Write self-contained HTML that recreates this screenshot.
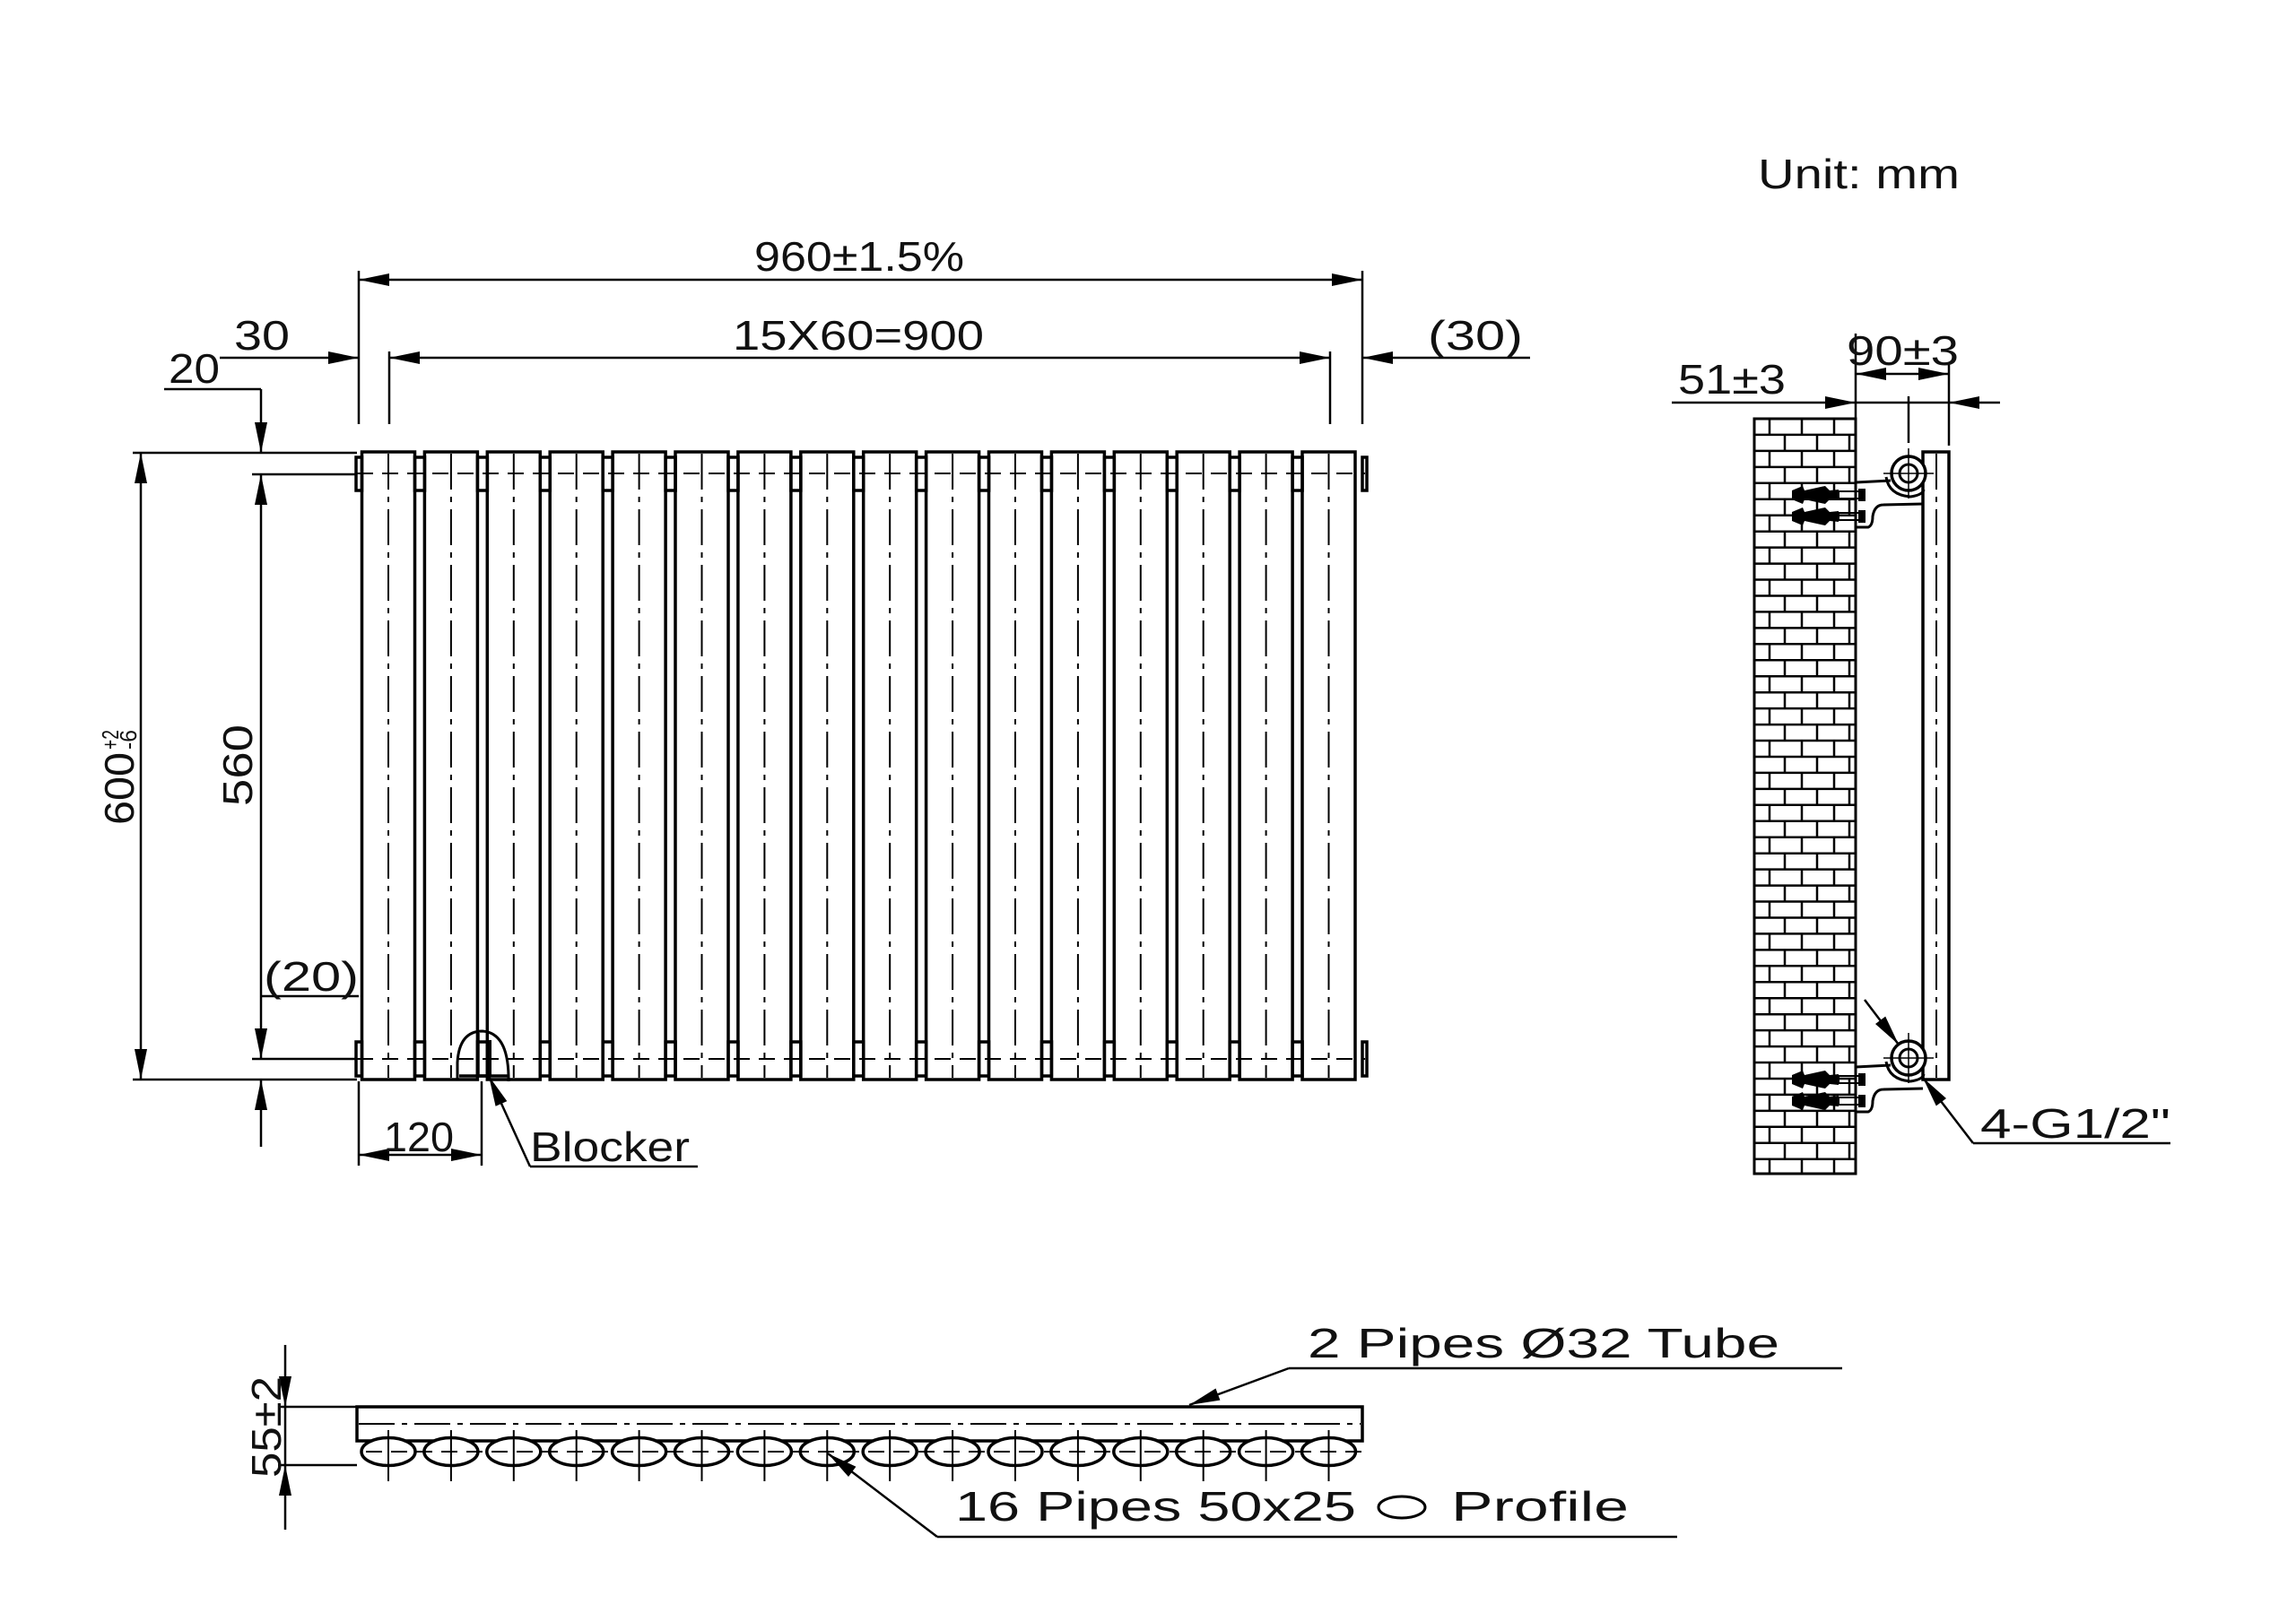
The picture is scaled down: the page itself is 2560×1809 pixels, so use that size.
<!DOCTYPE html>
<html><head><meta charset="utf-8"><style>
html,body{margin:0;padding:0;background:#fff}
svg{display:block}
text{font-family:"Liberation Sans",sans-serif;font-size:46px;fill:#111}
</style></head><body>
<svg id="s" width="2560" height="1809" viewBox="0 0 2560 1809" xmlns="http://www.w3.org/2000/svg">
<g id="g" stroke="#000" stroke-width="2.5" fill="none"></g>
<g id="t">
<text x="1960" y="210" textLength="225" lengthAdjust="spacingAndGlyphs">Unit: mm</text>
<text x="841" y="302" textLength="234" lengthAdjust="spacingAndGlyphs">960±1.5%</text>
<text x="817" y="390" textLength="280" lengthAdjust="spacingAndGlyphs">15X60=900</text>
<text x="261" y="390" textLength="62" lengthAdjust="spacingAndGlyphs">30</text>
<text x="1592" y="390" textLength="106" lengthAdjust="spacingAndGlyphs">(30)</text>
<text x="188" y="427" textLength="57" lengthAdjust="spacingAndGlyphs">20</text>
<text x="294" y="1105" textLength="106" lengthAdjust="spacingAndGlyphs">(20)</text>
<text x="428" y="1284" textLength="78" lengthAdjust="spacingAndGlyphs">120</text>
<text x="591" y="1295" textLength="178" lengthAdjust="spacingAndGlyphs">Blocker</text>
<text transform="translate(149,920) rotate(-90)" textLength="81" lengthAdjust="spacingAndGlyphs">600</text>
<text transform="translate(132,836) rotate(-90)" style="font-size:26px" textLength="22" lengthAdjust="spacingAndGlyphs">+2</text>
<text transform="translate(152,836) rotate(-90)" style="font-size:26px" textLength="22" lengthAdjust="spacingAndGlyphs">-6</text>
<text transform="translate(281,899) rotate(-90)" textLength="91" lengthAdjust="spacingAndGlyphs">560</text>
<text x="1871" y="439" textLength="120" lengthAdjust="spacingAndGlyphs">51±3</text>
<text x="2059" y="407" textLength="125" lengthAdjust="spacingAndGlyphs">90±3</text>
<text x="2208" y="1269" textLength="212" lengthAdjust="spacingAndGlyphs">4-G1/2"</text>
<text x="1458" y="1514" textLength="526" lengthAdjust="spacingAndGlyphs">2 Pipes Ø32 Tube</text>
<text x="1065" y="1696" textLength="447" lengthAdjust="spacingAndGlyphs">16 Pipes 50x25</text>
<text x="1618" y="1696" textLength="198" lengthAdjust="spacingAndGlyphs">Profile</text>
<text transform="translate(313,1648) rotate(-90)" textLength="113" lengthAdjust="spacingAndGlyphs">55±2</text>
</g>
</svg>
<script>
var g=document.getElementById('g'),NS='http://www.w3.org/2000/svg',h='';
function L(a,b,c,d,extra){h+='<line x1="'+a+'" y1="'+b+'" x2="'+c+'" y2="'+d+'"'+(extra||'')+'/>';}
function R(x,y,w,hh,extra){h+='<rect x="'+x+'" y="'+y+'" width="'+w+'" height="'+hh+'"'+(extra||'')+'/>';}
var DD=' stroke-dasharray="40 8 6 8" stroke-width="2"';
var DS=' stroke-dasharray="18 10" stroke-width="2"';
function A(x,y,dx,dy){ // arrow tip at x,y pointing in direction dx,dy
 var l=34,w=7,bx=x-dx*l,by=y-dy*l,px=-dy*w,py=dx*w;
 h+='<polygon points="'+x+','+y+' '+(bx+px)+','+(by+py)+' '+(bx-px)+','+(by-py)+'" fill="#000" stroke="none"/>';}
var T=' stroke-width="3.5"';
// ===== front view columns
for(var i=0;i<16;i++){var x=403.5+69.9*i,c=x+29.5;
 R(x.toFixed(1),504,59,700,T);
 L(c.toFixed(1),506,c.toFixed(1),1202,DD);
 if(i<15){var gx=x+59;R(gx.toFixed(1),510,11,37,T);R(gx.toFixed(1),1162,11,38,T);}
}
R(397,510,6.5,37,T);R(397,1162,6.5,38,T);R(1519,510,5,37,T);R(1519,1162,5,38,T);
L(398,528,1522,528,DS);L(398,1181,1522,1181,DS);
// blocker
h+='<path d="M510,1204 L510,1185 Q512,1150 538,1150 Q566,1152 567,1200 L567,1206" stroke-width="3"/>';
L(512,1200,567,1200,T);L(533,1152,533,1200,T);L(545,1160,545,1200,' stroke-width="6"');
// dims top
L(400,302,400,473);L(434,392,434,473);L(1483,392,1483,473);L(1519,302,1519,473);
L(400,312,1519,312);A(400,312,-1,0);A(1519,312,1,0);
L(434,399,1483,399);A(434,399,-1,0);A(1483,399,1,0);
L(245,399,400,399);A(400,399,1,0);
L(1519,399,1706,399);A(1519,399,-1,0);
// left dims
L(148,505,398,505);L(148,1204,398,1204);L(281,529,398,529);L(281,1181,398,1181);
L(157,505,157,1204);A(157,505,0,-1);A(157,1204,0,1);
L(183,434,291,434);L(291,434,291,505);A(291,505,0,1);
L(291,529,291,1181);A(291,529,0,-1);A(291,1181,0,1);
L(291,1204,291,1279);A(291,1204,0,-1);
L(291,1111,400,1111);
// 120
L(400,1206,400,1300);L(537,1206,537,1300);L(400,1288,537,1288);A(400,1288,-1,0);A(537,1288,1,0);
// blocker leader
L(545,1200,591,1301);A(545,1200,-0.41,-0.91);L(591,1301,778,1301);
// ===== side view wall
R(1956,467,113,842,' stroke-width="3"');
var rh=17.95,k=0;
for(var y=467+rh;y<1309;y+=rh){L(1956,y.toFixed(1),2069,y.toFixed(1),' stroke-width="2.5"');}
for(var r=0,y=467;y<1309;r++,y+=rh){var y2=Math.min(y+rh,1309),off=(r%2?1990:1973);
 for(var x=off;x<2069;x+=36){L(x,y.toFixed(1),x,y2.toFixed(1),' stroke-width="2.5"');}}
// panel
R(2144,504,29,700,T);L(2159,506,2159,1202,DD);
L(2069,372,2069,467);L(2173,407,2173,497);L(2128,442,2128,494);
L(1864,449,2069,449);A(2069,449,1,0);
L(2069,417,2173,417);A(2069,417,-1,0);A(2173,417,1,0);
L(2069,449,2230,449);A(2173,449,-1,0);
function bracket(cy,dir){
 h+='<circle cx="2128" cy="'+cy+'" r="19" fill="#fff" stroke-width="3.5"/><circle cx="2128" cy="'+cy+'" r="10" stroke-width="3"/>';
 L(2100,cy,2156,cy,' stroke-width="1.5"');L(2128,cy-28,2128,cy+28,' stroke-width="1.5"');
 h+='<path d="M2069,'+(cy+10)+' L2108,'+(cy+8)+'" stroke-width="3"/>';
 h+='<path d="M2103,'+(cy+4)+' Q2106,'+(cy+24)+' 2130,'+(cy+26)+' Q2144,'+(cy+24)+' 2145,'+(cy+18)+'" stroke-width="3"/>';
 h+='<path d="M2069,'+(cy+60)+' L2083,'+(cy+60)+' Q2088,'+(cy+58)+' 2088,'+(cy+48)+' Q2090,'+(cy+35)+' 2100,'+(cy+35)+' L2144,'+(cy+34)+'" stroke-width="3"/>';
 for(var j=0;j<2;j++){var yy=cy+24+j*24;
  h+='<path d="M1998,'+(yy-5)+' L2010,'+(yy-10)+' L2012,'+(yy-5)+' L2035,'+(yy-10)+' L2040,'+(yy-5)+' L2050,'+(yy-6)+' L2050,'+(yy+6)+' L2040,'+(yy+5)+' L2035,'+(yy+10)+' L2012,'+(yy+5)+' L2010,'+(yy+10)+' L1998,'+(yy+5)+'Z" fill="#000" stroke="none"/>';
  R(2050,yy-4,25,8,' stroke-width="2"');R(2072,yy-7,8,14,' fill="#000" stroke="none"');}
}
bracket(528,1);bracket(1180,1);
// 4-G1/2 leaders
L(2079,1115,2117,1165);A(2117,1165,0.6,0.8);
L(2144,1202,2200,1275);A(2144,1202,-0.6,-0.8);L(2200,1275,2420,1275);
// ===== bottom view
R(398,1569,1121,38,T);L(400,1588,1517,1588,DD);
L(408,1619,1522,1619,DS);
for(var i=0;i<16;i++){var c=433+69.9*i;
 h+='<ellipse cx="'+c.toFixed(1)+'" cy="1619" rx="30" ry="15.5" fill="#fff" stroke-width="3.5"/>';
 L(c.toFixed(1),1595,c.toFixed(1),1652,' stroke-width="2"');}
L(408,1619,1522,1619,DS);
L(310,1569,398,1569);L(310,1634,398,1634);
L(318,1500,318,1706);A(318,1569,0,1);A(318,1634,0,-1);
// leaders bottom
L(1437,1526,2054,1526);L(1437,1526,1326,1567);A(1326,1567,-0.94,0.35);
L(1045,1714,1870,1714);L(1045,1714,923,1621);A(923,1621,-0.8,-0.6);
h+='<ellipse cx="1563" cy="1681" rx="26" ry="12" stroke-width="3"/>';
g.innerHTML=h;
</script>
</body></html>
